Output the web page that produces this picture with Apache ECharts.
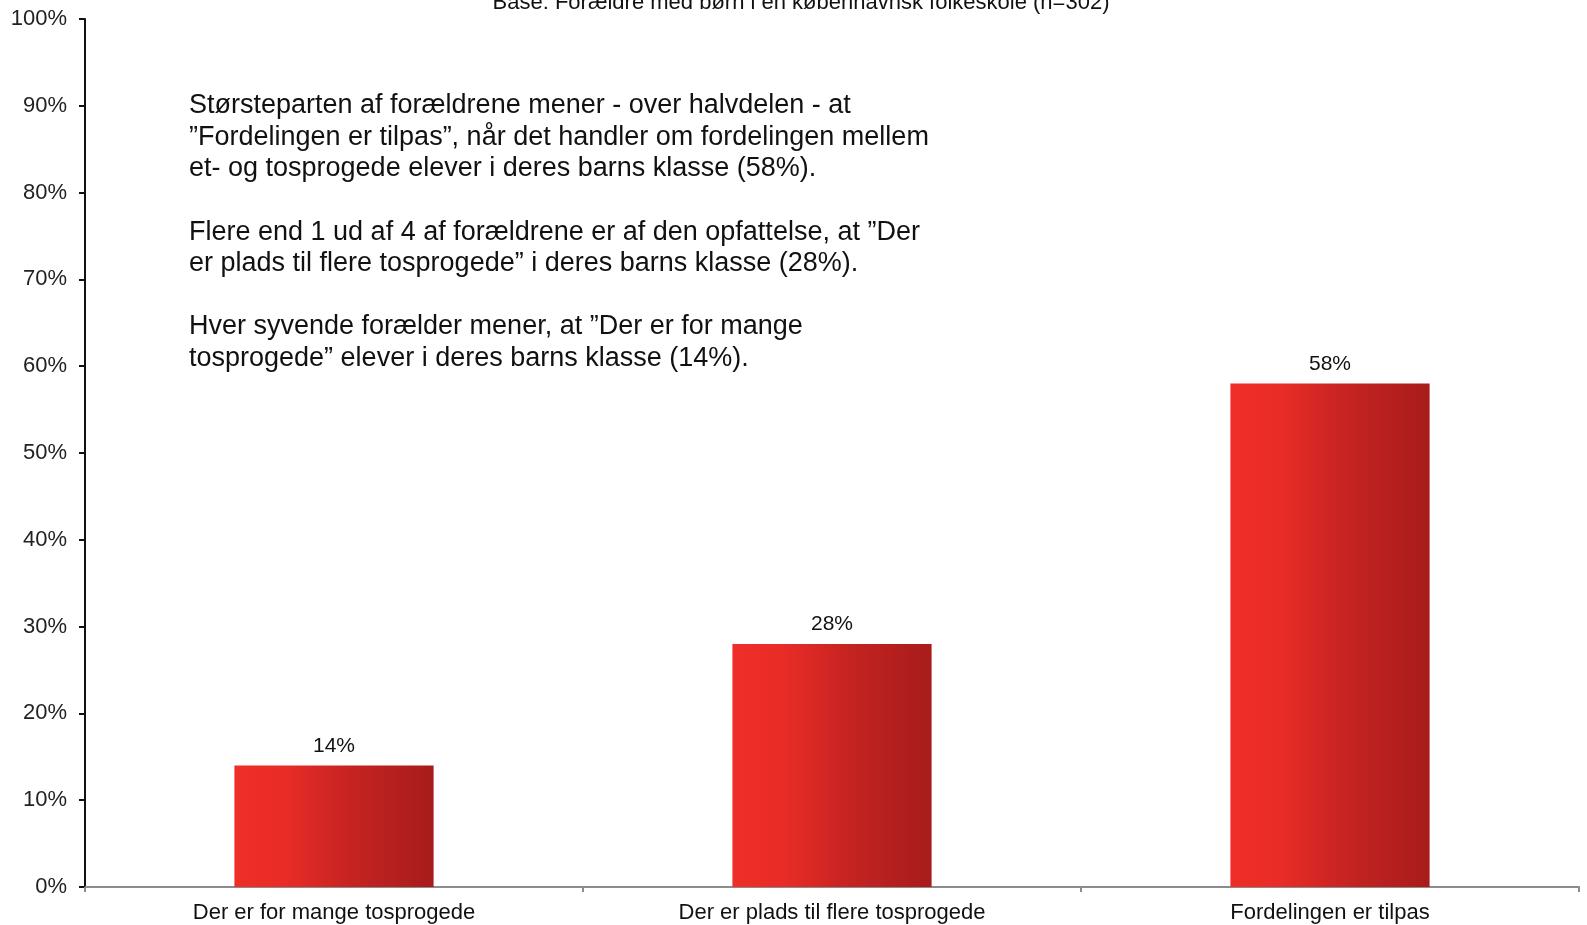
<!DOCTYPE html>
<html>
<head>
<meta charset="utf-8">
<title>Fordeling af et- og tosprogede elever</title>
<script src="https://cdn.jsdelivr.net/npm/echarts@6/dist/echarts.min.js"></script>
<style>
  html, body { margin: 0; padding: 0; background: #fff; }
  #chart { width: 1587px; height: 925px; }
</style>
</head>
<body>
<div id="chart"></div>
<script>
// data
const categories = ['Der er for mange tosprogede', 'Der er plads til flere tosprogede', 'Fordelingen er tilpas']
const shares = [14, 28, 58]
const yTicks = [0, 10, 20, 30, 40, 50, 60, 70, 80, 90, 100]

const baseText = 'Base: Forældre med børn i en københavnsk folkeskole (n=302)'
const noteLines = [
  'Størsteparten af forældrene mener - over halvdelen - at',
  '\u201dFordelingen er tilpas\u201d, når det handler om fordelingen mellem',
  'et- og tosprogede elever i deres barns klasse (58%).',
  '',
  'Flere end 1 ud af 4 af forældrene er af den opfattelse, at \u201dDer',
  'er plads til flere tosprogede\u201d i deres barns klasse (28%).',
  '',
  'Hver syvende forælder mener, at \u201dDer er for mange',
  'tosprogede\u201d elever i deres barns klasse (14%).'
]

const font = '"Liberation Sans", Arial, sans-serif'

const chart = echarts.init(document.getElementById('chart'))

// rød gradient fra venstre mod højre som i originalen
const barColor = new echarts.graphic.LinearGradient(0, 0, 1, 0, [
  { offset: 0, color: '#ef2e28' },
  { offset: 0.25, color: '#e92c27' },
  { offset: 0.6, color: '#c42321' },
  { offset: 1, color: '#a71c1b' }
])

const option = {
  animation: false,
  textStyle: { fontFamily: font },
  grid: { left: 85, right: 8, top: 19, bottom: 38, containLabel: false },
  xAxis: {
    type: 'category',
    data: categories,
    axisLine: { lineStyle: { color: '#8c8c8c', width: 2 } },
    axisTick: { show: true, length: 5, lineStyle: { color: '#8c8c8c', width: 2 } },
    axisLabel: { color: '#111', fontSize: 22, margin: 15, fontFamily: font }
  },
  yAxis: {
    type: 'value',
    min: yTicks[0],
    max: yTicks[yTicks.length - 1],
    interval: 10,
    splitLine: { show: false },
    axisLine: { show: true, lineStyle: { color: '#111', width: 2 } },
    axisTick: { show: true, length: 6, lineStyle: { color: '#111', width: 2 } },
    axisLabel: { color: '#222', fontSize: 22, margin: 18, formatter: '{value}%', fontFamily: font }
  },
  series: [{
    type: 'bar',
    data: shares,
    barWidth: '40%',
    itemStyle: { color: barColor },
    label: {
      show: true,
      position: 'top',
      distance: 9,
      color: '#111',
      fontSize: 21,
      fontFamily: font,
      formatter: '{c}%'
    }
  }],
  graphic: [
    {
      type: 'text',
      x: 801,
      y: 3,
      style: {
        text: baseText,
        fill: '#111',
        font: '22px ' + font,
        textAlign: 'center',
        textVerticalAlign: 'middle'
      }
    },
    {
      type: 'text',
      x: 189,
      y: 90,
      style: {
        text: noteLines.join('\n'),
        fill: '#111',
        font: '27px ' + font,
        lineHeight: 31.6,
        textAlign: 'left',
        textVerticalAlign: 'top'
      }
    }
  ]
}

chart.setOption(option)
</script>
</body>
</html>
